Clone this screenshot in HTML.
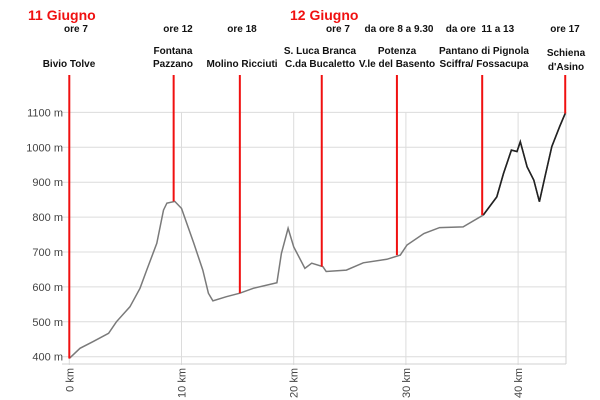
<!DOCTYPE html>
<html><head><meta charset="utf-8"><style>
html,body{margin:0;padding:0;background:#fff;}
svg{display:block;font-family:"Liberation Sans",sans-serif;}
.ann{font-weight:bold;font-size:10px;fill:#111;text-anchor:middle;}
.date{font-weight:bold;font-size:14px;fill:#f01010;}
.yl{font-size:11px;fill:#444;text-anchor:end;}
.xl{font-size:11px;fill:#444;}
</style></head><body>
<svg id="chart" width="600" height="400">
<g id="grid"></g>
<g id="labels"></g>
<path id="prof" fill="none" stroke="#7a7a7a" stroke-width="1.5"/>
<path id="prof2" fill="none" stroke="#222" stroke-width="1.6"/>
<g id="marks"></g>
<text class="date" x="28" y="20">11 Giugno</text>
<text class="date" x="290" y="20">12 Giugno</text>
<g>
<text class="ann" x="76" y="32">ore 7</text>
<text class="ann" x="69" y="67">Bivio Tolve</text>
<text class="ann" x="178" y="32">ore 12</text>
<text class="ann" x="173" y="54">Fontana</text>
<text class="ann" x="173" y="67">Pazzano</text>
<text class="ann" x="242" y="32">ore 18</text>
<text class="ann" x="242" y="67">Molino Ricciuti</text>
<text class="ann" x="338" y="32">ore 7</text>
<text class="ann" x="320" y="54">S. Luca Branca</text>
<text class="ann" x="320" y="67">C.da Bucaletto</text>
<text class="ann" x="399" y="32">da ore 8 a 9.30</text>
<text class="ann" x="397" y="54">Potenza</text>
<text class="ann" x="397" y="67">V.le del Basento</text>
<text class="ann" x="480" y="32" xml:space="preserve">da ore  11 a 13</text>
<text class="ann" x="484" y="54">Pantano di Pignola</text>
<text class="ann" x="484" y="67">Sciffra/ Fossacupa</text>
<text class="ann" x="565" y="32">ore 17</text>
<text class="ann" x="566" y="56">Schiena</text>
<text class="ann" x="566" y="70">d'Asino</text>
</g>
</svg>
<script>
const kmTicks=[0,10,20,30,40];
const mTicks=[400,500,600,700,800,900,1000,1100];
const distKm=[0,0.95,2.1,3.5,4.2,5.4,6.3,6.9,7.8,8.4,8.7,9.4,10.0,11.1,11.9,12.4,12.8,14.0,15.2,16.4,18.5,18.9,19.5,20.0,21.0,21.6,22.6,22.9,24.7,26.2,28.3,29.5,30.1,31.6,33.0,35.1,36.9,38.1,38.7,39.4,39.9,40.2,40.8,41.4,41.9,42.4,43.0,43.7,44.2];
const elevM=[395,424,443,467,500,543,596,648,725,820,840,845,825,725,648,582,560,572,582,596,612,696,768,715,653,668,658,644,648,669,679,691,720,753,770,772,806,858,925,992,988,1016,944,906,844,916,1002,1059,1097];
const stopKm=[0,9.3,15.2,22.5,29.2,36.8,44.2];
const stopM=[395,845,582,658,691,806,1097];
const NS='http://www.w3.org/2000/svg';
const X=k=>69.3+k*11.22;
const Y=m=>356.7-(m-400)*0.349;
const grid=document.getElementById('grid'),lab=document.getElementById('labels'),mk=document.getElementById('marks');
mTicks.forEach(m=>{
 const l=document.createElementNS(NS,'line');
 
 
 l.setAttribute('x1',62);l.setAttribute('x2',566);l.setAttribute('y1',Y(m));l.setAttribute('y2',Y(m));
 l.setAttribute('stroke','#dcdcdc');grid.appendChild(l);
 const t=document.createElementNS(NS,'text');
 
 
 t.setAttribute('class','yl');t.setAttribute('x',63);t.setAttribute('y',Y(m)+4);t.textContent=m+' m';lab.appendChild(t);
});
kmTicks.forEach(k=>{
 const l=document.createElementNS(NS,'line');
 
 
 l.setAttribute('x1',X(k));l.setAttribute('x2',X(k));l.setAttribute('y1',112);l.setAttribute('y2',365);
 l.setAttribute('stroke','#dcdcdc');grid.appendChild(l);
 const t=document.createElementNS(NS,'text');
 
 
 t.setAttribute('class','xl');t.setAttribute('text-anchor','end');
 t.setAttribute('transform','translate('+(X(k)+4)+',368) rotate(-90)');t.textContent=k+' km';lab.appendChild(t);
});
const bl=document.createElementNS(NS,'line');


bl.setAttribute('x1',62);bl.setAttribute('x2',566);bl.setAttribute('y1',364);bl.setAttribute('y2',364);bl.setAttribute('stroke','#d0d0d0');grid.appendChild(bl);
const rb=document.createElementNS(NS,'line');


rb.setAttribute('x1',566);rb.setAttribute('x2',566);rb.setAttribute('y1',112);rb.setAttribute('y2',364);rb.setAttribute('stroke','#d0d0d0');grid.appendChild(rb);
let d1='',d2='';
distKm.forEach((k,i)=>{
 d1+=(i?'L':'M')+X(k).toFixed(1)+','+Y(elevM[i]).toFixed(1);
 if(k>=36.9) d2+=(d2?'L':'M')+X(k).toFixed(1)+','+Y(elevM[i]).toFixed(1);
});
document.getElementById('prof').setAttribute('d',d1);
document.getElementById('prof2').setAttribute('d',d2);
stopKm.forEach((k,i)=>{
 const l=document.createElementNS(NS,'line');
 
 
 l.setAttribute('x1',X(k));l.setAttribute('x2',X(k));l.setAttribute('y1',75);l.setAttribute('y2',Y(stopM[i]));
 l.setAttribute('stroke','#f01010');l.setAttribute('stroke-width','2');mk.appendChild(l);
});
</script>
</body></html>
